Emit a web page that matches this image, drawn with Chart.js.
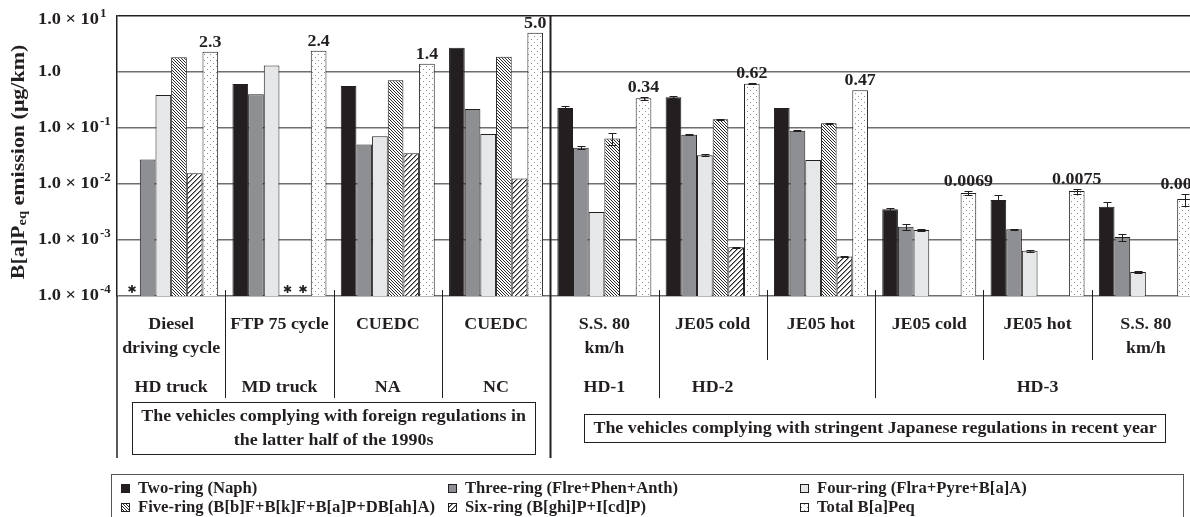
<!DOCTYPE html>
<html>
<head>
<meta charset="utf-8">
<script src="https://cdn.jsdelivr.net/npm/chart.js@4.4.0/dist/chart.umd.min.js"></script>
<style>
  html, body { margin: 0; padding: 0; background: #fff; overflow: hidden; }
  #wrap { width: 1190px; height: 517px; overflow: hidden; }
</style>
</head>
<body>
<div id="wrap"><canvas id="chart" width="1200" height="517"></canvas></div>
<script>
// test cycle (row 1), vehicle (row 2) and fleet (boxed row) for each group
const cycles = [['Diesel', 'driving cycle'], ['FTP 75 cycle'], ['CUEDC'], ['CUEDC'], ['S.S. 80', 'km/h'],
                ['JE05 cold'], ['JE05 hot'], ['JE05 cold'], ['JE05 hot'], ['S.S. 80', 'km/h']];
const vehicles = ['HD truck', 'MD truck', 'NA', 'NC', 'HD-1', 'HD-2', 'HD-2', 'HD-3', 'HD-3', 'HD-3'];
const fleets = [0, 0, 0, 0, 1, 1, 1, 1, 1, 1];
const fleetTitles = [
    ['The vehicles complying with foreign regulations in', 'the latter half of the 1990s'],
    ['The vehicles complying with stringent Japanese regulations in recent year']
];

const seriesNames = ['Two-ring (Naph)', 'Three-ring (Flre+Phen+Anth)', 'Four-ring (Flra+Pyre+B[a]A)',
                     'Five-ring (B[b]F+B[k]F+B[a]P+DB[ah]A)', 'Six-ring (B[ghi]P+I[cd]P)', 'Total B[a]Peq'];

// B[a]Peq emission, ug/km
const twoRing   = [null, 0.61, 0.56, 2.7, 0.228, 0.353, 0.228, 0.00353, 0.00518, 0.00394];
const threeRing = [0.0275, 0.40, 0.051, 0.218, 0.0445, 0.0759, 0.0895, 0.00173, 0.00155, 0.00113];
const fourRing  = [0.39, 1.30, 0.071, 0.078, 0.00316, 0.0325, 0.0268, 0.00151, 0.00064, 0.000268];
const fiveRing  = [1.83, null, 0.71, 1.88, 0.065, 0.143, 0.121, null, null, null];
const sixRing   = [0.0155, null, 0.0353, 0.0126, null, 0.00074, 0.00051, null, null, null];
const totalBaP  = [2.3, 2.4, 1.4, 5.0, 0.34, 0.62, 0.47, 0.0069, 0.0075, 0.0054];

// standard deviations
const twoErr   = [0, 0, 0, 0, 0.02, 0.015, 0.003, 0.0002, 0.0011, 0.0009];
const threeErr = [0, 0, 0, 0, 0.003, 0.0015, 0.0015, 0.0002, 0.00004, 0.00016];
const fourErr  = [0, 0, 0, 0, 0.00005, 0.0012, 0.0003, 0.00008, 0.00002, 0.00001];
const fiveErr  = [0, 0, 0, 0, 0.015, 0.003, 0.002, 0, 0, 0];
const sixErr   = [0, 0, 0, 0, 0, 0.00002, 0.00001, 0, 0, 0];
const totalErr = [0, 0, 0, 0, 0.02, 0.008, 0, 0.0005, 0.0008, 0.0013];

const totalLabels = ['2.3', '2.4', '1.4', '5.0', '0.34', '0.62', '0.47', '0.0069', '0.0075', '0.0054'];

// [series, group] pairs marked with an asterisk (not detected)
const notDetected = [[0, 0], [3, 1], [4, 1]];

const yTicks = [1e-4, 1e-3, 1e-2, 1e-1, 1, 10];
const yTickLabels = [['1.0 \u00d7 10', '-4'], ['1.0 \u00d7 10', '-3'], ['1.0 \u00d7 10', '-2'],
                     ['1.0 \u00d7 10', '-1'], ['1.0', ''], ['1.0 \u00d7 10', '1']];

const INK = '#231f20';
const FONT = '"Liberation Serif", "Times New Roman", serif';
const SX = 1.12; // the figure's lettering is a little wide

function makePattern(size, paint) {
    const c = document.createElement('canvas');
    c.width = size;
    c.height = size;
    const g = c.getContext('2d');
    const img = g.createImageData(size, size);
    for (let y = 0; y < size; y++) {
        for (let x = 0; x < size; x++) {
            const v = paint(x, y);
            const k = (y * size + x) * 4;
            img.data[k] = v;
            img.data[k + 1] = v;
            img.data[k + 2] = v;
            img.data[k + 3] = 255;
        }
    }
    g.putImageData(img, 0, 0);
    return g.createPattern(c, 'repeat');
}

const fiveFill = makePattern(3, (x, y) => ((x - y + 3) % 3 === 0 ? 40 : 255));
const sixFill = makePattern(5, (x, y) => {
    const m = (x + y) % 5;
    return m === 0 ? 40 : (m === 1 ? 150 : 255);
});
const totalFill = makePattern(6, (x, y) => ((x === 0 && y === 0) || (x === 3 && y === 3) ? 140 : 255));

const fills = [INK, '#8e8f92', '#e6e7e8', fiveFill, sixFill, totalFill];
const values = [twoRing, threeRing, fourRing, fiveRing, sixRing, totalBaP];
const errors = [twoErr, threeErr, fourErr, fiveErr, sixErr, totalErr];

function text(ctx, s, x, y, align, sx) {
    ctx.save();
    ctx.translate(x, y);
    ctx.scale(sx || SX, 1);
    ctx.textAlign = align || 'center';
    ctx.fillText(s, 0, 0);
    ctx.restore();
}

function textWidth(ctx, s, sx) {
    return ctx.measureText(s).width * (sx || SX);
}

const errorBars = {
    id: 'errorBars',
    afterDatasetsDraw(chart) {
        const ctx = chart.ctx;
        const y = chart.scales.y;
        ctx.save();
        ctx.strokeStyle = INK;
        ctx.lineWidth = 1;
        chart.data.datasets.forEach((ds, di) => {
            const meta = chart.getDatasetMeta(di);
            ds.errors.forEach((e, i) => {
                const v = ds.data[i];
                if (!e || v == null) return;
                const x = Math.round(meta.data[i].x) + 0.5;
                const yTop = Math.round(y.getPixelForValue(v + e)) + 0.5;
                const yBot = Math.round(y.getPixelForValue(v - e)) + 0.5;
                ctx.beginPath();
                ctx.moveTo(x, yTop); ctx.lineTo(x, yBot);
                ctx.moveTo(x - 4, yTop); ctx.lineTo(x + 4, yTop);
                ctx.moveTo(x - 4, yBot); ctx.lineTo(x + 4, yBot);
                ctx.stroke();
            });
        });
        ctx.restore();
    }
};

const decorations = {
    id: 'decorations',
    afterDraw(chart) {
        const ctx = chart.ctx;
        const area = chart.chartArea;
        const y = chart.scales.y;
        const groupW = area.width / cycles.length;
        const cx = i => area.left + (i + 0.5) * groupW;

        ctx.save();
        ctx.fillStyle = INK;
        ctx.strokeStyle = INK;
        ctx.textBaseline = 'alphabetic';

        // y tick labels with superscript exponents
        yTicks.forEach((v, i) => {
            const py = y.getPixelForValue(v) + (v === 10 ? 4 : 0);
            const [base, exp] = yTickLabels[i];
            ctx.font = 'bold 17px ' + FONT;
            ctx.textBaseline = 'middle';
            text(ctx, base, 38, py, 'left', 1.08);
            if (exp) {
                const w = textWidth(ctx, base, 1.08);
                ctx.font = 'bold 12px ' + FONT;
                text(ctx, exp, 38 + w + 1, py - 6, 'left', 1.08);
            }
        });

        // y axis title with subscript
        ctx.save();
        ctx.translate(19, (area.top + area.bottom) / 2 + 6);
        ctx.rotate(-Math.PI / 2);
        ctx.scale(1.22, 1);
        ctx.textBaseline = 'middle';
        ctx.textAlign = 'left';
        const big = 'bold 18px ' + FONT, small = 'bold 12px ' + FONT;
        const parts = [['B[a]P', big, 0], ['eq', small, 4], [' emission (\u03bcg/km)', big, 0]];
        let total = 0;
        parts.forEach(p => { ctx.font = p[1]; total += ctx.measureText(p[0]).width; });
        let px = -total / 2;
        parts.forEach(p => {
            ctx.font = p[1];
            ctx.fillText(p[0], px, p[2]);
            px += ctx.measureText(p[0]).width;
        });
        ctx.restore();

        // values above the total bars
        const totMeta = chart.getDatasetMeta(5);
        ctx.font = 'bold 16px ' + FONT;
        ctx.textBaseline = 'alphabetic';
        totalBaP.forEach((v, i) => {
            const bar = totMeta.data[i];
            const top = Math.min(bar.y, y.getPixelForValue(v + totalErr[i]));
            text(ctx, totalLabels[i], bar.x, top - 5);
        });

        // asterisks for not detected
        ctx.font = 'bold 11px "DejaVu Sans"';
        ctx.textAlign = 'center';
        ctx.textBaseline = 'middle';
        notDetected.forEach(([s, g]) => {
            const bar = chart.getDatasetMeta(s).data[g];
            ctx.fillText('\u2731', bar.x, area.bottom - 6);
        });

        // table dividers under the axis
        ctx.lineWidth = 1.5;
        ctx.beginPath();
        ctx.moveTo(area.left, area.bottom);
        ctx.lineTo(area.left, 458);
        ctx.stroke();
        for (let i = 1; i < cycles.length; i++) {
            const bx = Math.round(area.left + i * groupW) + 0.5;
            ctx.beginPath();
            if (fleets[i] !== fleets[i - 1]) {
                ctx.lineWidth = 2;
                ctx.moveTo(bx, area.top);
                ctx.lineTo(bx, 458);
            } else {
                ctx.lineWidth = 1;
                ctx.moveTo(bx, area.bottom - 6);
                ctx.lineTo(bx, vehicles[i] !== vehicles[i - 1] ? 398 : 360);
            }
            ctx.stroke();
        }

        // row 1: test cycle, row 2: vehicle
        ctx.font = 'bold 16px ' + FONT;
        ctx.textBaseline = 'middle';
        cycles.forEach((lines, i) => {
            lines.forEach((s, k) => text(ctx, s, cx(i), 325 + k * 24));
        });
        let start = 0;
        for (let i = 1; i <= vehicles.length; i++) {
            if (i === vehicles.length || vehicles[i] !== vehicles[start]) {
                text(ctx, vehicles[start], cx(Math.floor((start + i - 1) / 2)), 388);
                start = i;
            }
        }

        // boxed fleet titles
        ctx.lineWidth = 1;
        fleetTitles.forEach((lines, f) => {
            const first = fleets.indexOf(f), last = fleets.lastIndexOf(f);
            const mid = area.left + (first + last + 1) / 2 * groupW;
            const w = Math.max(...lines.map(s => textWidth(ctx, s))) + 18;
            const h = lines.length * 24 + 4;
            const top = Math.round(428 - h / 2) + 0.5;
            ctx.strokeRect(Math.round(mid - w / 2) + 0.5, top, Math.round(w), h);
            lines.forEach((s, k) => text(ctx, s, mid, top + 14 + k * 24));
        });

        // legend
        const colX = [121, 448, 800], rowY = [489, 508];
        ctx.strokeStyle = '#555';
        ctx.strokeRect(111.5, 474.5, 1072, 60);
        seriesNames.forEach((name, i) => {
            const lx = colX[i % 3], ly = rowY[Math.floor(i / 3)];
            ctx.fillStyle = fills[i];
            ctx.fillRect(lx, ly - 5, 9, 9);
            ctx.strokeStyle = INK;
            ctx.strokeRect(lx + 0.5, ly - 4.5, 8, 8);
            ctx.fillStyle = INK;
            text(ctx, name, lx + 17, ly, 'left', 1.04);
        });

        ctx.restore();
    }
};

new Chart(document.getElementById('chart'), {
    type: 'bar',
    data: {
        labels: cycles.map(c => c.join(' ')),
        datasets: seriesNames.map((name, i) => ({
            label: name,
            data: values[i],
            errors: errors[i],
            backgroundColor: fills[i],
            borderColor: INK,
            borderWidth: 1,
            categoryPercentage: 0.868,
            barPercentage: 1.0
        }))
    },
    options: {
        responsive: false,
        animation: false,
        devicePixelRatio: 1,
        layout: { padding: { top: 16, left: 0, right: 0, bottom: 0 } },
        plugins: {
            legend: { display: false },
            tooltip: { enabled: false }
        },
        scales: {
            x: {
                ticks: { display: false },
                grid: { display: false },
                border: { display: false },
                afterFit: s => { s.height = 221; }
            },
            y: {
                type: 'logarithmic',
                min: 1e-4,
                max: 10,
                afterBuildTicks: s => { s.ticks = yTicks.map(v => ({ value: v })); },
                afterFit: s => { s.width = 117; },
                ticks: { display: false },
                grid: {
                    color: c => (c.tick && c.tick.value === 10 ? INK : '#6f6f6f'),
                    lineWidth: 1.5,
                    drawTicks: false
                },
                border: { display: true, color: INK, width: 1.5 }
            }
        }
    },
    plugins: [errorBars, decorations]
});
</script>
</body>
</html>
